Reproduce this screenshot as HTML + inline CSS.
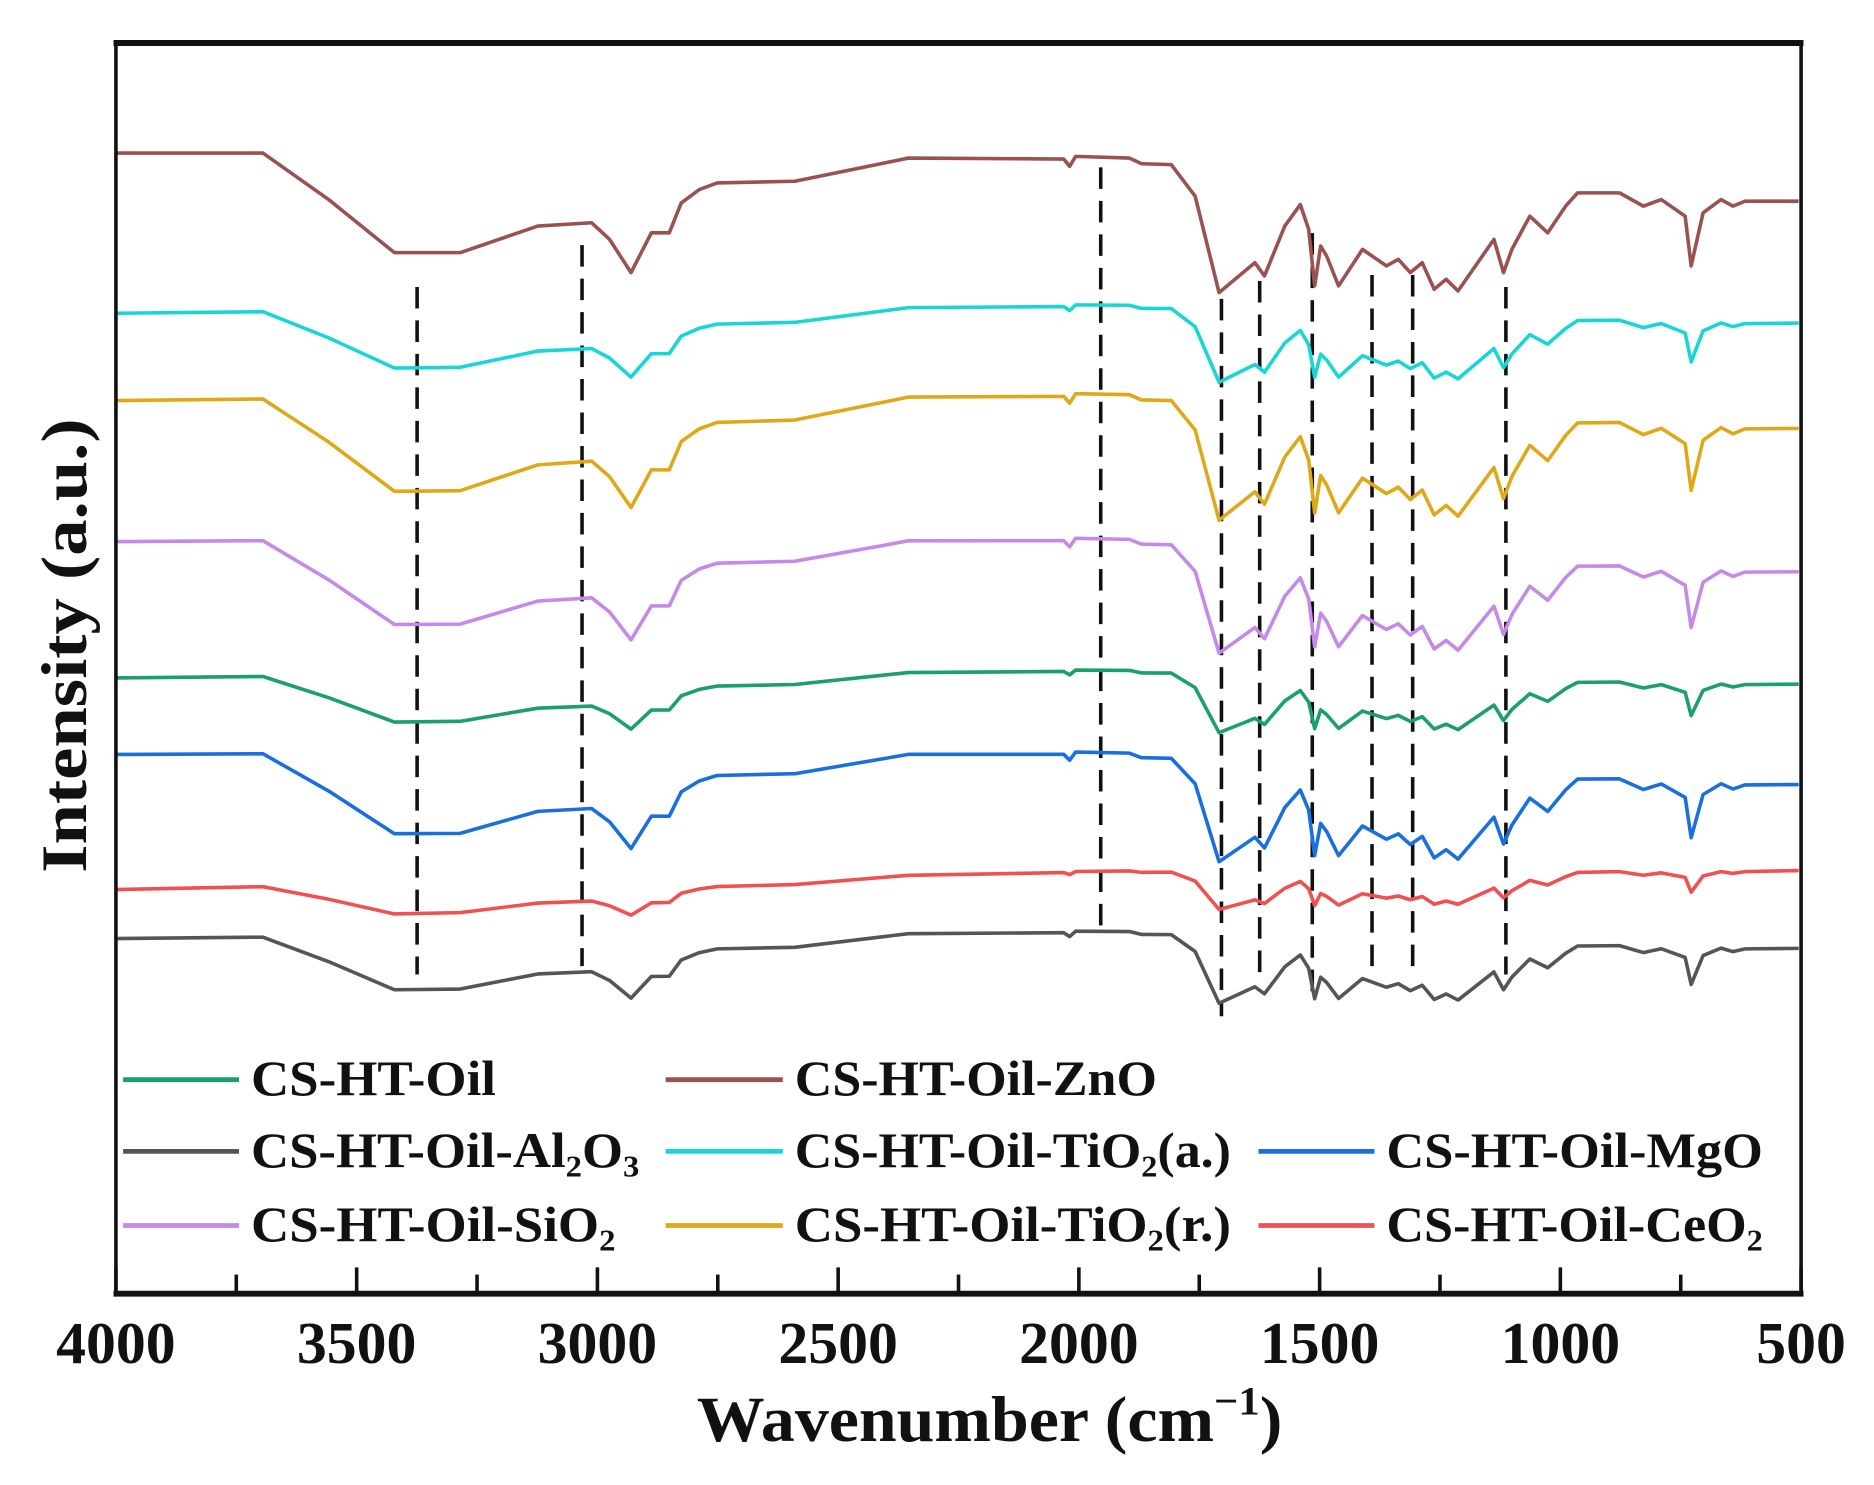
<!DOCTYPE html>
<html><head><meta charset="utf-8"><style>
html,body{margin:0;padding:0;background:#fff;}
svg{display:block;}
text{font-family:"Liberation Serif",serif;fill:#111;}
</style></head><body>
<svg id="s" width="1874" height="1485" viewBox="0 0 1568 1242" preserveAspectRatio="none" xmlns="http://www.w3.org/2000/svg">
<g id="dash" stroke="#111" stroke-width="3" stroke-dasharray="18,10" fill="none">
<line x1="349" y1="240" x2="349" y2="815"/>
<line x1="487" y1="205" x2="487" y2="808"/>
<line x1="921" y1="140" x2="921" y2="780"/>
<line x1="1022" y1="250" x2="1022" y2="850"/>
<line x1="1054" y1="235" x2="1054" y2="815"/>
<line x1="1098" y1="195" x2="1098" y2="830"/>
<line x1="1148" y1="230" x2="1148" y2="815"/>
<line x1="1182" y1="230" x2="1182" y2="815"/>
<line x1="1260" y1="240" x2="1260" y2="815"/>
</g>
<g id="series" fill="none" stroke-width="3" stroke-linejoin="round"></g>
<rect x="97" y="36" width="1410" height="1046" fill="none" stroke="#111" stroke-width="3"/>
<line x1="95" y1="36" x2="1509" y2="36" stroke="#111" stroke-width="5"/>
<line x1="95" y1="1082" x2="1509" y2="1082" stroke="#111" stroke-width="5"/>
<g id="ticks" stroke="#111" stroke-width="3"></g>
<g id="tl" font-size="50" font-weight="bold" text-anchor="middle"></g>
<text x="828" y="1205" font-size="54" font-weight="bold" text-anchor="middle" textLength="490" lengthAdjust="spacingAndGlyphs">Wavenumber (cm<tspan font-size="34" dy="-22">−1</tspan><tspan dy="22">)</tspan></text>
<text transform="translate(72,540) rotate(-90)" font-size="54" font-weight="bold" text-anchor="middle" textLength="380" lengthAdjust="spacingAndGlyphs">Intensity (a.u.)</text>
<g font-size="42" font-weight="bold">
<line x1="103" y1="903" x2="200" y2="903" stroke="#1aa068" stroke-width="4"/>
<text x="210" y="916" textLength="205" lengthAdjust="spacingAndGlyphs">CS-HT-Oil</text>
<line x1="557" y1="903" x2="655" y2="903" stroke="#9a5250" stroke-width="4"/>
<text x="665" y="916" textLength="303" lengthAdjust="spacingAndGlyphs">CS-HT-Oil-ZnO</text>
<line x1="103" y1="963" x2="200" y2="963" stroke="#555" stroke-width="4"/>
<text x="210" y="976" textLength="325" lengthAdjust="spacingAndGlyphs">CS-HT-Oil-Al<tspan font-size="26" dy="8">2</tspan><tspan dy="-8">O</tspan><tspan font-size="26" dy="8">3</tspan></text>
<line x1="557" y1="963" x2="655" y2="963" stroke="#19d6d6" stroke-width="4"/>
<text x="665" y="976" textLength="365" lengthAdjust="spacingAndGlyphs">CS-HT-Oil-TiO<tspan font-size="26" dy="8">2</tspan><tspan dy="-8">(a.)</tspan></text>
<line x1="1053" y1="963" x2="1150" y2="963" stroke="#1a6fe0" stroke-width="4"/>
<text x="1160" y="976" textLength="315" lengthAdjust="spacingAndGlyphs">CS-HT-Oil-MgO</text>
<line x1="103" y1="1025" x2="200" y2="1025" stroke="#c58ae8" stroke-width="4"/>
<text x="210" y="1038" textLength="305" lengthAdjust="spacingAndGlyphs">CS-HT-Oil-SiO<tspan font-size="26" dy="8">2</tspan></text>
<line x1="557" y1="1025" x2="655" y2="1025" stroke="#e0a818" stroke-width="4"/>
<text x="665" y="1038" textLength="365" lengthAdjust="spacingAndGlyphs">CS-HT-Oil-TiO<tspan font-size="26" dy="8">2</tspan><tspan dy="-8">(r.)</tspan></text>
<line x1="1053" y1="1025" x2="1150" y2="1025" stroke="#f05050" stroke-width="4"/>
<text x="1160" y="1038" textLength="315" lengthAdjust="spacingAndGlyphs">CS-HT-Oil-CeO<tspan font-size="26" dy="8">2</tspan></text>
</g>
</svg>
<script>
var NS="http://www.w3.org/2000/svg";
var T=[[97,460],[220,460],[275,600],[330,760],[385,760],[450,680],[495,670],[510,720],[528,820],[545,700],[560,700],[570,610],[585,570],[600,550],[665,545],[740,490],[760,475],[890,478],[895,500],[900,470],[945,475],[955,492],[980,495],[1000,590],[1020,880],[1040,820],[1050,790],[1058,830],[1075,680],[1088,615],[1095,690],[1100,860],[1105,740],[1110,770],[1120,860],[1140,750],[1160,800],[1170,780],[1180,820],[1190,790],[1200,870],[1210,840],[1220,875],[1250,720],[1258,820],[1265,750],[1280,650],[1295,700],[1310,620],[1320,580],[1355,580],[1375,620],[1390,600],[1410,650],[1415,800],[1425,640],[1440,600],[1450,620],[1460,605],[1505,605]];
var S=[["#9a5250",128,168,1],["#19d6d6",262,270,0.58],["#e0a818",335,358,0.94],["#c58ae8",453,478,0.85],["#1aa068",567,572,0.47],["#1a6fe0",631,656,0.81],["#f05050",744,728,0.3],["#555",785,793,0.54]];
var g=document.getElementById("series");
S.forEach(function(s){var c=(s[2]-s[1])-s[3]*40;var d="";
T.forEach(function(p,i){var r=(p[1]-460)/3.6;var f=(p[0]-97)/1410;var y=s[1]+s[3]*r+c*f;d+=(i?"L":"M")+p[0]+" "+y.toFixed(1);});
var e=document.createElementNS(NS,"path");e.setAttribute("d",d);e.setAttribute("stroke",s[0]);g.appendChild(e);});
var tk=document.getElementById("ticks"),tl=document.getElementById("tl");
for(var i=0;i<=14;i++){var x=97+i*1410/14;var l=document.createElementNS(NS,"line");l.setAttribute("x1",x);l.setAttribute("x2",x);l.setAttribute("y1",1082);l.setAttribute("y2",i%2?1066:1060);tk.appendChild(l);
if(i%2==0){var t=document.createElementNS(NS,"text");t.setAttribute("x",x);t.setAttribute("y",1140);var v=4000-i*250;t.textContent=v;t.setAttribute("textLength",v>=1000?100:75);t.setAttribute("lengthAdjust","spacingAndGlyphs");tl.appendChild(t);}}
</script>
</body></html>
